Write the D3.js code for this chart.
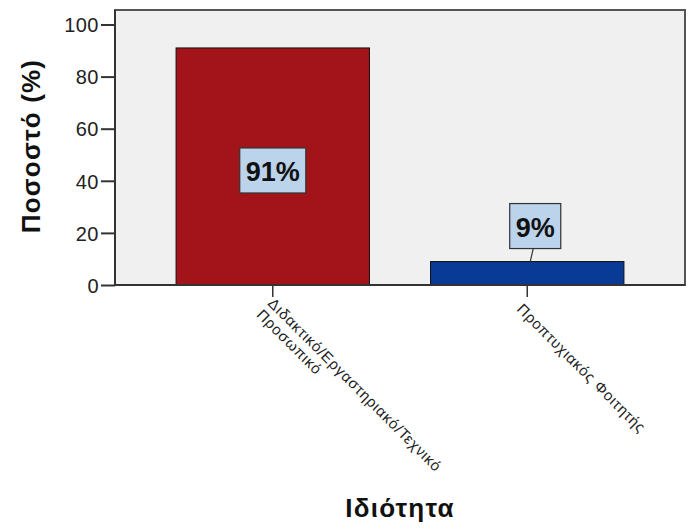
<!DOCTYPE html>
<html><head><meta charset="utf-8">
<script src="https://cdn.jsdelivr.net/npm/d3@7"></script>
<style>
html,body{margin:0;padding:0;background:#fff;}
text{font-family:"Liberation Sans",Arial,sans-serif;}
</style></head>
<body>
<svg id="c" width="691" height="530"></svg>
<script>
const categories = ["Διδακτικό/Εργαστηριακό/Τεχνικό Προσωπικό", "Προπτυχιακός Φοιτητής"];
const categoryLines = [["Διδακτικό/Εργαστηριακό/Τεχνικό", "Προσωπικό"], ["Προπτυχιακός Φοιτητής"]];
const values = [91, 9];
const valueLabels = ["91%", "9%"];
const barColors = ["#a3141a", "#083a96"];
const yTicks = [0, 20, 40, 60, 80, 100];
const yTitle = "Ποσοστό (%)";
const xTitle = "Ιδιότητα";

const svg = d3.select("#c");
const L = 115, R = 685, T = 10, B = 285;
const x = d3.scaleBand().domain(categories).range([L, R]).paddingInner(0.24).paddingOuter(0.24);
const y = d3.scaleLinear().domain([0, 100]).range([B, 24.5]);

// plot background frame
svg.append("rect").attr("x", L).attr("y", T).attr("width", R - L).attr("height", B - T)
  .attr("fill", "#f0f0f0").attr("stroke", "#555").attr("stroke-width", 2);

// bars
svg.selectAll("rect.bar").data(values).enter().append("rect").attr("class", "bar")
  .attr("x", (d, i) => x(categories[i]))
  .attr("y", d => y(d))
  .attr("width", x.bandwidth())
  .attr("height", d => y(0) - y(d))
  .attr("fill", (d, i) => barColors[i])
  .attr("stroke", "#111").attr("stroke-width", 1);

// y axis
const yAxis = d3.axisLeft(y).tickValues(yTicks).tickSize(14).tickPadding(2).tickFormat(d3.format("d"));
const ga = svg.append("g").attr("transform", `translate(${L},0)`).call(yAxis);
ga.select(".domain").attr("stroke", "#333").attr("stroke-width", 2).attr("d", `M0,${T}V${B}`);
ga.selectAll(".tick line").attr("stroke", "#333").attr("stroke-width", 2);
ga.selectAll(".tick text").attr("font-size", 20).attr("letter-spacing", 0.5).attr("fill", "#222").attr("dy", "0.36em");

// x axis
const xAxis = d3.axisBottom(x).tickSize(12).tickFormat("");
const gx = svg.append("g").attr("transform", `translate(0,${B})`).call(xAxis);
gx.select(".domain").attr("stroke", "#333").attr("stroke-width", 2).attr("d", `M${L},0H${R}`);
gx.selectAll(".tick line").attr("stroke", "#333").attr("stroke-width", 1.5);

// rotated category labels
categories.forEach((c, i) => {
  const cx = x(c) + x.bandwidth() / 2;
  const lines = categoryLines[i];
  const top = 17 - 8 * lines.length;
  const t = svg.append("text").attr("transform", `translate(${cx},293) rotate(45)`)
    .attr("font-size", 15).attr("letter-spacing", 0.8).attr("fill", "#222");
  lines.forEach((ln, j) => {
    t.append("tspan").attr("x", 4).attr("y", top + 11 + 16 * j).text(ln);
  });
});

// value labels
values.forEach((v, i) => {
  const cx = x(categories[i]) + x.bandwidth() / 2;
  let bx, by;
  const h = 45;
  const g = svg.append("g");
  const txt = g.append("text").attr("font-size", 27).attr("font-weight", "bold")
    .attr("text-anchor", "middle").attr("fill", "#111").text(valueLabels[i]);
  const w = txt.node().getComputedTextLength() + 12;
  if (y(0) - y(v) > h + 20) {
    bx = cx; by = y(v / 2) + 4;
  } else {
    bx = cx + 8; by = y(v) - 13 - h / 2;
    g.append("line").attr("x1", bx - 2).attr("y1", by + h / 2).attr("x2", cx + 3).attr("y2", y(v))
      .attr("stroke", "#333").attr("stroke-width", 1.2);
  }
  g.insert("rect", "text").attr("x", bx - w / 2).attr("y", by - h / 2).attr("width", w).attr("height", h)
    .attr("fill", "#bcd3ec").attr("stroke", "#333").attr("stroke-width", 1.2);
  txt.attr("x", bx).attr("y", by + 10.5);
});

// axis titles
svg.append("text").attr("transform", `translate(40,146) rotate(-90)`).attr("text-anchor", "middle")
  .attr("font-size", 26).attr("letter-spacing", 1.2).attr("font-weight", "bold").attr("fill", "#111").text(yTitle);
svg.append("text").attr("x", 400).attr("y", 517).attr("text-anchor", "middle")
  .attr("font-size", 26).attr("letter-spacing", 1.2).attr("font-weight", "bold").attr("fill", "#111").text(xTitle);
</script>
</body></html>
